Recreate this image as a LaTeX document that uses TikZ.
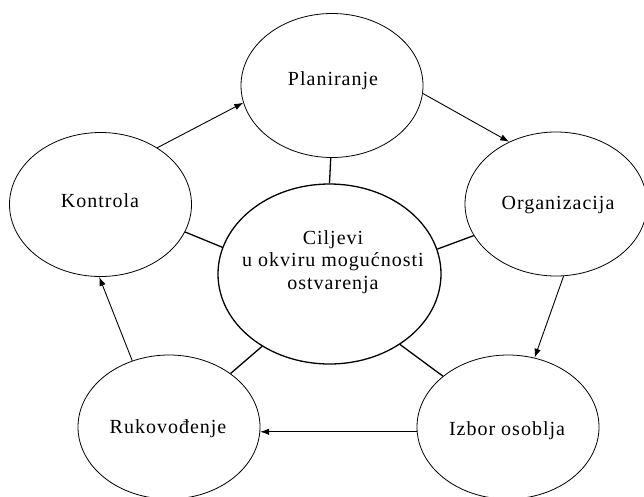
\documentclass[tikz,border=0pt]{standalone}
\usepackage{fontspec}
\setmainfont{Liberation Serif}[LetterSpace=5]
\usetikzlibrary{shapes.geometric,arrows.meta}
\tikzset{
  outer/.style={draw, ellipse, line width=0.8pt, minimum width=182pt, minimum height=144pt, inner sep=0pt},
  inner/.style={draw, ellipse, line width=1.3pt, minimum width=223pt, minimum height=180pt, inner sep=0pt},
  lbl/.style={font=\fontsize{20}{22.3}\selectfont, align=center, inner sep=0pt},
  arr/.style={line width=0.9pt, -{Latex[length=9pt,width=6.5pt]}},
  link/.style={line width=1.3pt}
}
\begin{document}
\begin{tikzpicture}[x=1pt,y=-1pt]
\useasboundingbox (0,0) rectangle (644,496);
\node[outer] (pla) at (332,85.5) {};
\node[outer] (org) at (556,204) {};
\node[outer] (izb) at (508,427) {};
\node[outer] (ruk) at (169,427) {};
\node[outer] (kon) at (100.5,204.5) {};
\node[inner] (cen) at (329.5,274) {};
\node[lbl] (tpla) at (333,81) {Planiranje};
\node[lbl] (torg) at (558,205) {Organizacija};
\node[lbl] (tizb) at (507,431) {Izbor osoblja};
\node[lbl] (truk) at (168,429) {Rukovođenje};
\node[lbl] (tkon) at (100,201) {Kontrola};
\node[lbl] (tcen) at (333,262) {Ciljevi\\u okviru mogućnosti\\ostvarenja};
% arrows
\draw[arr] (kon.45) -- (pla.191);
\draw[arr] (pla.355) -- (org.127);
\draw[arr] (org.276) -- (izb.69);
\draw[arr] (izb.183) -- (ruk.357);
\draw[arr] (ruk.119) -- (kon.269);
% links to centre
\draw[link] (cen.90) -- (pla.269);
\draw[link] (kon.342) -- (cen.166);
\draw[link] (org.201) -- (cen.13);
\draw[link] (ruk.41) -- (cen.227);
\draw[link] (izb.142) -- (cen.315);
\end{tikzpicture}
\end{document}
